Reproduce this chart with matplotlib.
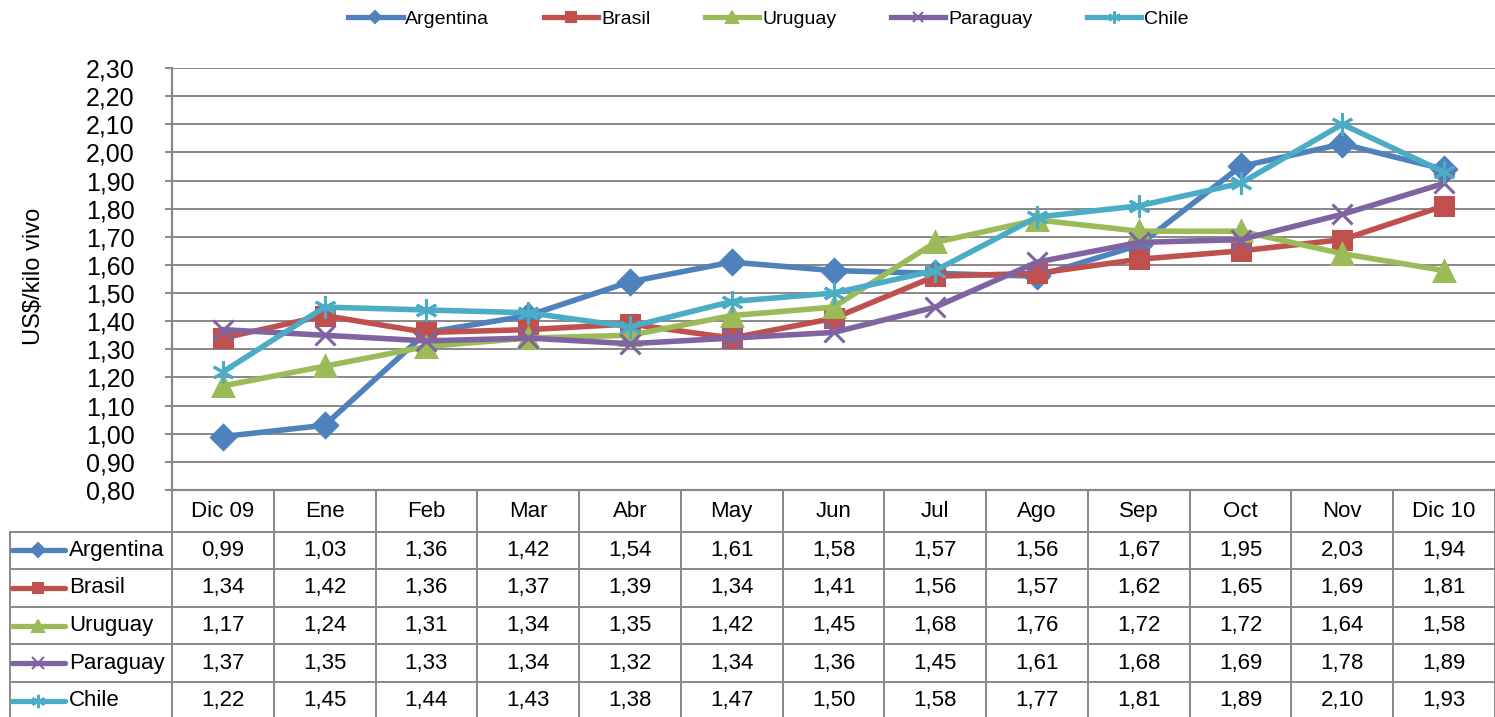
import matplotlib
matplotlib.use('Agg')
import matplotlib.pyplot as plt
from matplotlib.lines import Line2D

plt.rcParams['font.family'] = ['Liberation Sans', 'DejaVu Sans']

# data
months = ['Dic 09', 'Ene', 'Feb', 'Mar', 'Abr', 'May', 'Jun', 'Jul', 'Ago',
          'Sep', 'Oct', 'Nov', 'Dic 10']
argentina = [0.99, 1.03, 1.36, 1.42, 1.54, 1.61, 1.58, 1.57, 1.56, 1.67, 1.95, 2.03, 1.94]
brasil = [1.34, 1.42, 1.36, 1.37, 1.39, 1.34, 1.41, 1.56, 1.57, 1.62, 1.65, 1.69, 1.81]
uruguay = [1.17, 1.24, 1.31, 1.34, 1.35, 1.42, 1.45, 1.68, 1.76, 1.72, 1.72, 1.64, 1.58]
paraguay = [1.37, 1.35, 1.33, 1.34, 1.32, 1.34, 1.36, 1.45, 1.61, 1.68, 1.69, 1.78, 1.89]
chile = [1.22, 1.45, 1.44, 1.43, 1.38, 1.47, 1.50, 1.58, 1.77, 1.81, 1.89, 2.10, 1.93]

names = ['Argentina', 'Brasil', 'Uruguay', 'Paraguay', 'Chile']
series = [argentina, brasil, uruguay, paraguay, chile]
colors = ['#4F81BD', '#C0504D', '#9BBB59', '#8064A2', '#4BACC6']
markers = ['D', 's', '^', 'x', (6, 2, 0)]
msizes = [12, 13, 15, 14, 16]

GRID = '#888888'
W, H = 1495, 717

def fmt(v):
    return ('%.2f' % v).replace('.', ',')

fig = plt.figure(figsize=(W / 100, H / 100), dpi=100)
ax = fig.add_axes([172 / W, 1 - 490 / H, 1323 / W, 422 / H])

x = list(range(len(months)))
for vals, name, c, m, ms in zip(series, names, colors, markers, msizes):
    ax.plot(x, vals, color=c, lw=4, marker=m, ms=ms, mew=2.2,
            mec=c, mfc=c, label=name, solid_joinstyle='round', zorder=3)

ax.set_xlim(-0.5, len(months) - 0.5)
ax.set_ylim(0.80, 2.30)
yt = [0.80 + 0.1 * i for i in range(16)]
ax.set_yticks(yt)
ax.set_yticklabels([fmt(v) for v in yt], fontsize=18)
ax.set_xticks([])
ax.grid(axis='y', color=GRID, lw=1.4)
ax.set_axisbelow(True)
for s in ['top', 'right']:
    ax.spines[s].set_visible(False)
for s in ['left', 'bottom']:
    ax.spines[s].set_color(GRID)
    ax.spines[s].set_linewidth(1.6)
ax.tick_params(axis='y', direction='out', length=5, width=1.4, color=GRID, pad=22)
ax.set_ylabel('US$/kilo vivo', fontsize=17, va='center')
ax.yaxis.set_label_coords(-0.104, 0.507)

# top legend
handles = [Line2D([0], [0], color=c, lw=3.8, marker=m, ms=ms * 0.55, mew=1.5, mec=c, mfc=c)
           for c, m, ms in zip(colors, markers, msizes)]
fig.legend(handles, names, loc='center', bbox_to_anchor=(0.514, 1 - 19 / H), ncol=5,
           frameon=False, fontsize=14, handlelength=2.8, handletextpad=0.15,
           columnspacing=2.8)

# data table
tax = fig.add_axes([172 / W, 0, 1323 / W, 227 / H])
tax.set_xlim(-0.5, len(months) - 0.5)
tax.set_ylim(227, 0)
tax.axis('off')
colw = 1323 / len(months)
left = -0.5 - 162 / colw
hdr = 41.5
rowh = 37.6

def px(p):
    return (p - 172) / colw - 0.5

for k in range(len(months) + 1):
    tax.plot([k - 0.5, k - 0.5], [0, 230], color=GRID, lw=1.4, clip_on=False)
tax.plot([left, left], [hdr, 230], color=GRID, lw=1.4, clip_on=False)
for r in range(len(series)):
    tax.plot([left, len(months) - 0.5], [hdr + r * rowh] * 2, color=GRID, lw=1.4, clip_on=False)

for i, mth in enumerate(months):
    tax.text(i, hdr / 2 + 1, mth, ha='center', va='center', fontsize=16)

for r, (vals, name, c, m, ms) in enumerate(zip(series, names, colors, markers, msizes)):
    yc = hdr + r * rowh + rowh / 2
    tax.plot([px(12), px(65)], [yc, yc], color=c, lw=3.8, clip_on=False,
             solid_capstyle='round')
    tax.plot([(px(12) + px(65)) / 2], [yc], color=c, marker=m, ms=ms * 0.6, mew=1.5,
             mec=c, mfc=c, clip_on=False)
    tax.text(px(69), yc, name, ha='left', va='center', fontsize=16)
    for i, v in enumerate(vals):
        tax.text(i, yc, fmt(v), ha='center', va='center', fontsize=16)

fig.savefig('out.png', dpi=100)
